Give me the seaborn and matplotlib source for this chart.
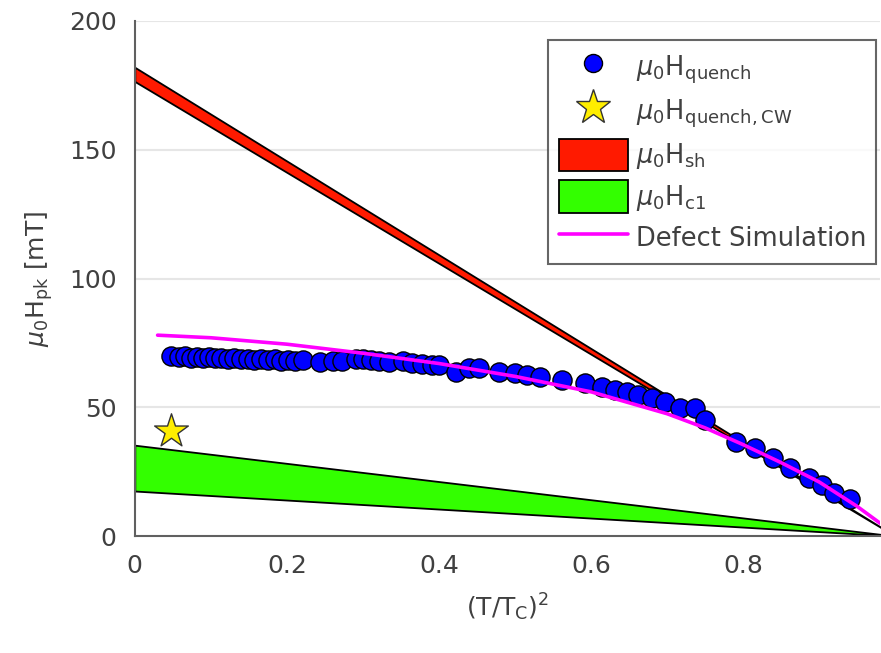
import matplotlib
matplotlib.use("Agg")
import matplotlib.pyplot as plt
import seaborn as sns
import numpy as np
import pandas as pd
from matplotlib.patches import Patch
from matplotlib.lines import Line2D

# ---- data ----
quench_t2 = [0.048, 0.058, 0.066, 0.074, 0.082, 0.090, 0.098, 0.106, 0.114, 0.122,
             0.131, 0.140, 0.149, 0.157, 0.166, 0.175, 0.184, 0.192, 0.201, 0.210,
             0.221, 0.243, 0.260, 0.273, 0.291, 0.300, 0.310, 0.321, 0.334, 0.352,
             0.365, 0.378, 0.391, 0.400, 0.422, 0.439, 0.452, 0.479, 0.500, 0.516,
             0.533, 0.562, 0.592, 0.614, 0.632, 0.647, 0.662, 0.680, 0.697, 0.717,
             0.737, 0.750, 0.791, 0.815, 0.839, 0.861, 0.887, 0.903, 0.920, 0.940]
quench_h = [69.9, 69.5, 69.8, 69.3, 69.6, 69.2, 69.5, 69.0, 69.3, 68.8,
            69.1, 68.7, 68.9, 68.4, 68.8, 68.2, 68.6, 68.0, 68.5, 67.9,
            68.2, 67.6, 68.1, 67.8, 68.6, 68.9, 68.4, 68.0, 67.6, 67.8,
            67.2, 66.8, 66.3, 66.4, 63.8, 65.1, 65.1, 63.8, 63.2, 62.5,
            61.9, 60.6, 59.3, 58.0, 56.7, 56.0, 54.8, 53.5, 52.2, 49.6,
            49.6, 45.0, 36.6, 34.1, 30.2, 26.3, 22.4, 19.8, 16.6, 14.6]

cw_t2 = [0.047]
cw_h = [40.9]

band_t2 = [0.0, 1.0]
sh_upper = [182.0, 0.0]
sh_lower = [176.5, 0.0]
c1_upper = [35.3, 0.0]
c1_lower = [17.5, 0.0]

sim_t2 = [0.03, 0.10, 0.20, 0.30, 0.40, 0.50, 0.60, 0.70, 0.75, 0.80, 0.85, 0.90, 0.95, 0.98]
sim_h = [78.0, 77.0, 74.5, 71.0, 67.0, 62.0, 56.0, 47.5, 42.0, 35.5, 28.5, 21.0, 11.5, 5.0]

xticks = [0, 0.2, 0.4, 0.6, 0.8]
xtick_labels = ["0", "0.2", "0.4", "0.6", "0.8"]
yticks = [0, 50, 100, 150, 200]

# ---- style ----
sns.set_theme(style="white")
plt.rcParams['font.family'] = ['DejaVu Sans']
plt.rcParams['mathtext.fontset'] = 'dejavusans'
txt = '#404040'

fig = plt.figure(figsize=(8.81, 6.53), dpi=100)
ax = fig.add_axes([0.153, 0.179, 0.846, 0.789])

for yv in [50, 100, 150, 200]:
    ax.axhline(yv, color='#e6e6e6', lw=1.5, zorder=0)

ax.fill_between(band_t2, sh_lower, sh_upper, facecolor='#ff1a00', edgecolor='black', lw=1.3, zorder=2)
ax.fill_between(band_t2, c1_lower, c1_upper, facecolor='#33ff00', edgecolor='black', lw=1.3, zorder=2)

df_q = pd.DataFrame({'t2': quench_t2, 'h': quench_h})
sns.scatterplot(data=df_q, x='t2', y='h', ax=ax, s=190, color='#0000ff',
                edgecolor='black', linewidth=1.0, zorder=3, legend=False)

ax.scatter(cw_t2, cw_h, marker='*', s=650, color='#ffee00', edgecolor='#333333', linewidth=1.0, zorder=4)

df_s = pd.DataFrame({'t2': sim_t2, 'h': sim_h})
sns.lineplot(data=df_s, x='t2', y='h', ax=ax, color='#ff00ff', lw=2.6, zorder=5, legend=False)

ax.set_xlim(0, 0.98)
ax.set_ylim(0, 200)
ax.set_xticks(xticks)
ax.set_xticklabels(xtick_labels)
ax.set_yticks(yticks)
ax.tick_params(axis='both', direction='out', length=7, width=1.2, color='#606060',
               labelsize=18, labelcolor=txt, pad=6)
for s in ['top', 'right']:
    ax.spines[s].set_visible(False)
for s in ['left', 'bottom']:
    ax.spines[s].set_color('#606060')
    ax.spines[s].set_linewidth(1.5)

ax.set_xlabel(r'(T/T$_\mathrm{C}$)$^2$', fontsize=18, color=txt, labelpad=10)
ax.set_ylabel(r'$\mu_0$H$_\mathrm{pk}$ [mT]', fontsize=18, color=txt, labelpad=10)

handles = [
    Line2D([], [], marker='o', ls='none', markersize=13, markerfacecolor='#0000ff', markeredgecolor='black'),
    Line2D([], [], marker='*', ls='none', markersize=26, markerfacecolor='#ffee00', markeredgecolor='#333333'),
    Patch(facecolor='#ff1a00', edgecolor='black', lw=1.3),
    Patch(facecolor='#33ff00', edgecolor='black', lw=1.3),
    Line2D([], [], color='#ff00ff', lw=2.6),
]
labels = [r'$\mu_0$H$_\mathrm{quench}$', r'$\mu_0$H$_\mathrm{quench,CW}$',
          r'$\mu_0$H$_\mathrm{sh}$', r'$\mu_0$H$_\mathrm{c1}$', 'Defect Simulation']
leg = ax.legend(handles, labels, loc='upper right', bbox_to_anchor=(0.995, 0.962),
                fontsize=18.5, frameon=True, fancybox=False, edgecolor='#404040',
                handlelength=2.7, handleheight=1.55, borderpad=0.4, labelspacing=0.35,
                handletextpad=0.3, borderaxespad=0.0)
leg.get_frame().set_linewidth(1.5)
for t in leg.get_texts():
    t.set_color(txt)

fig.savefig('out.png', dpi=100)
